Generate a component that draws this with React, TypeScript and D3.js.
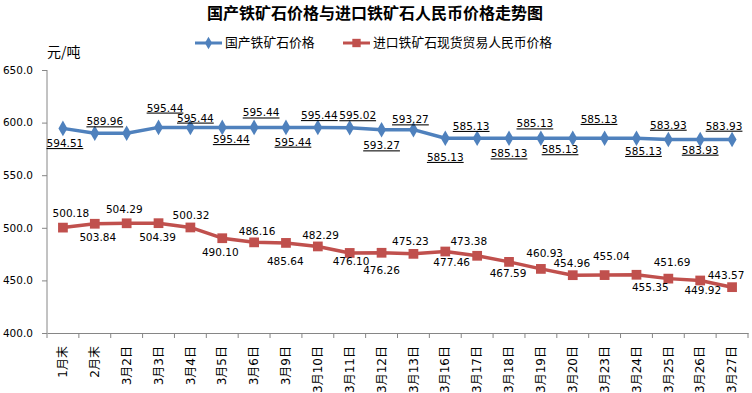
import { useEffect, useRef } from "react";
import * as d3 from "d3";

const categories = [
  "1月末", "2月末", "3月2日", "3月3日", "3月4日", "3月5日", "3月6日", "3月9日",
  "3月10日", "3月11日", "3月12日", "3月13日", "3月16日", "3月17日", "3月18日",
  "3月19日", "3月20日", "3月23日", "3月24日", "3月25日", "3月26日", "3月27日",
];

// 国产铁矿石价格
const domestic = [
  594.51, 589.96, 589.96, 595.44, 595.44, 595.44, 595.44, 595.44, 595.44, 595.02,
  593.27, 593.27, 585.13, 585.13, 585.13, 585.13, 585.13, 585.13, 585.13,
  583.93, 583.93, 583.93,
];

// 进口铁矿石现货贸易人民币价格
const imported = [
  500.18, 503.84, 504.29, 504.39, 500.32, 490.1, 486.16, 485.64, 482.29, 476.1,
  476.26, 475.23, 477.46, 473.38, 467.59, 460.93, 454.96, 455.04, 455.35,
  451.69, 449.92, 443.57,
];

const yTicks = [400, 450, 500, 550, 600, 650];

const seriesNames = ["国产铁矿石价格", "进口铁矿石现货贸易人民币价格"];

// label nudges (px) as placed in the original, [dx, dy]; null = hidden
const domesticLabelPos: ([number, number] | null)[] = [
  [2, 15], [10, -11.5], null, [6.5, -19.5], [5, -9.5], [9, 12], [7, -14.6], [7, 14.6],
  [1.5, -12], [8, -12.3], [0, 16], [-3, -10], [0, 19], [-6, -12], [0, 15.5],
  [-6, -14.5], [-12.7, 11.3], [-5.6, -19], [7, 13], [0, -14.5], [0, 10.5], [-8, -13.5],
];
const importedLabelPos: ([number, number] | null)[] = [
  [8, -13.8], [3, 14], [-2.4, -14], [-1, 14.6], [0.6, -12], [-2, 14], [3, -10.7],
  [-0.7, 18.8], [2.7, -11], [1.3, 8.8], [0, 17.5], [-3, -13], [6.4, 10.5], [-8.4, -14.5],
  [-1, 11], [3.8, -16], [-1, -11.4], [6.7, -18.8], [13.8, 13], [3.7, -16.6], [2.6, 9.5],
  [-6, -12],
];

const BLUE = "#4F81BD";
const RED = "#C0504D";
const AXIS = "#868686";
const NUM_FONT = "'DejaVu Sans', 'Noto Sans CJK SC', sans-serif";
const CJK_FONT = "'Noto Sans CJK SC', sans-serif";

const App = () => {
  const svgRef = useRef<SVGSVGElement>(null);

  useEffect(() => {
    const svg = d3.select(svgRef.current);
    svg.selectAll("*").remove();

    const left = 47, right = 748, top = 70, bottom = 333;

    const x = d3.scaleBand<string>().domain(categories).range([left, right]);
    const y = d3.scaleLinear().domain([400, 650]).range([bottom, top]);
    const cx = (i: number) => (x(categories[i]) as number) + x.bandwidth() / 2;

    // title
    svg.append("text")
      .attr("x", 375).attr("y", 13).attr("dy", "0.35em")
      .attr("text-anchor", "middle")
      .style("font-family", CJK_FONT).style("font-size", "16px").style("font-weight", "bold")
      .text("国产铁矿石价格与进口铁矿石人民币价格走势图");

    svg.append("text")
      .attr("x", 47).attr("y", 52).attr("dy", "0.35em")
      .style("font-family", CJK_FONT).style("font-size", "14px")
      .text("元/吨");

    // legend
    const legend = [
      { x0: 195, color: BLUE, shape: d3.symbolDiamond, name: seriesNames[0] },
      { x0: 343, color: RED, shape: d3.symbolSquare, name: seriesNames[1] },
    ];
    legend.forEach((l) => {
      const g = svg.append("g");
      g.append("line")
        .attr("x1", l.x0).attr("x2", l.x0 + 27).attr("y1", 43).attr("y2", 43)
        .attr("stroke", l.color).attr("stroke-width", 3);
      g.append("path")
        .attr("d", d3.symbol(l.shape, l.shape === d3.symbolSquare ? 70 : 45)())
        .attr("transform", `translate(${l.x0 + 13.5},43)`)
        .attr("fill", l.color);
      g.append("text")
        .attr("x", l.x0 + 30).attr("y", 43).attr("dy", "0.35em")
        .style("font-family", CJK_FONT).style("font-size", "12.8px")
        .text(l.name);
    });

    // y axis
    const yAxis = svg.append("g")
      .attr("transform", `translate(${left},0)`)
      .call(d3.axisLeft(y).tickValues(yTicks).tickSize(5).tickPadding(9).tickFormat(d3.format(".1f")));
    yAxis.select(".domain").attr("stroke", AXIS).attr("d", `M0,${top}V${bottom}`);
    yAxis.selectAll(".tick line").attr("stroke", AXIS);
    yAxis.selectAll(".tick text")
      .style("font-family", NUM_FONT).style("font-size", "10.5px").attr("fill", "#000");

    // x axis
    const xAxis = svg.append("g")
      .attr("transform", `translate(0,${bottom})`)
      .call(d3.axisBottom(x).tickSize(0).tickSizeOuter(0));
    xAxis.select(".domain").attr("stroke", AXIS);
    xAxis.selectAll(".tick text")
      .style("font-family", NUM_FONT).style("font-size", "12px").attr("fill", "#000")
      .attr("transform", "rotate(-90)")
      .attr("x", -13).attr("y", 0).attr("dy", "0.35em")
      .attr("text-anchor", "end");
    svg.append("g").selectAll("line")
      .data(d3.range(categories.length + 1))
      .enter().append("line")
      .attr("x1", (i) => left + i * x.step()).attr("x2", (i) => left + i * x.step())
      .attr("y1", bottom).attr("y2", bottom + 5)
      .attr("stroke", AXIS);

    const line = d3.line<number>().x((_, i) => cx(i)).y((d) => y(d));

    const drawSeries = (
      values: number[], color: string, shape: d3.SymbolType, size: number,
      pos: ([number, number] | null)[], underline: boolean,
    ) => {
      const g = svg.append("g");
      g.append("path")
        .attr("d", line(values))
        .attr("fill", "none").attr("stroke", color).attr("stroke-width", 3.5)
        .attr("stroke-linejoin", "round");
      g.selectAll(".marker")
        .data(values)
        .enter().append("path")
        .attr("class", "marker")
        .attr("d", d3.symbol(shape, size)())
        .attr("transform", (d, i) => `translate(${cx(i)},${y(d)})`)
        .attr("fill", color);
      const labels = values
        .map((v, i) => ({ v, i, p: pos[i] }))
        .filter((d) => d.p !== null) as { v: number; i: number; p: [number, number] }[];
      g.selectAll(".label")
        .data(labels)
        .enter()
        .append("text")
        .attr("class", "label")
        .attr("x", (d) => cx(d.i) + d.p[0])
        .attr("y", (d) => y(d.v) + d.p[1])
        .attr("dy", "0.35em")
        .attr("text-anchor", "middle")
        .style("font-family", NUM_FONT).style("font-size", "10.5px")
        .style("text-decoration", underline ? "underline" : "none")
        .text((d) => d.v.toFixed(2));
    };

    drawSeries(domestic, BLUE, d3.symbolDiamond, 70, domesticLabelPos, true);
    drawSeries(imported, RED, d3.symbolSquare, 95, importedLabelPos, false);
  }, []);

  return (
    <div style={{ position: "absolute", left: 0, top: 0 }}>
      <svg ref={svgRef} width={752} height={393} style={{ display: "block", background: "#fff" }} />
    </div>
  );
};

export default App;
